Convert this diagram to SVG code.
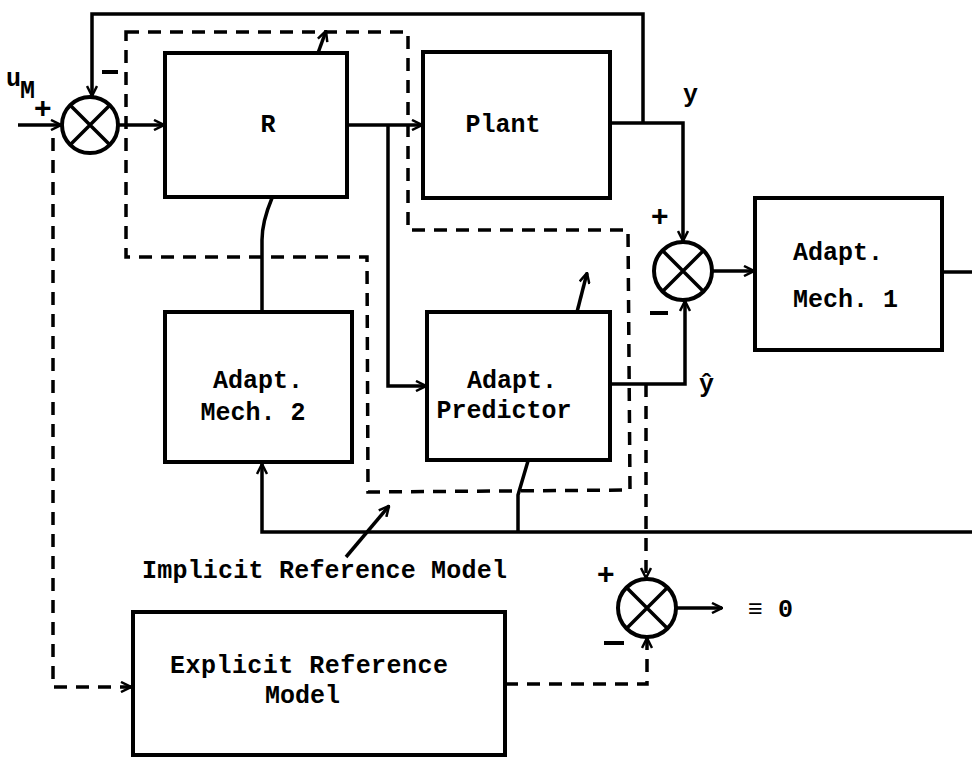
<svg xmlns="http://www.w3.org/2000/svg" width="972" height="758" viewBox="0 0 972 758">
<style>
.box{fill:#fff;stroke:#000;stroke-width:4}
.ln{fill:none;stroke:#000;stroke-width:3.5;stroke-linejoin:miter}
.dl{fill:none;stroke:#000;stroke-width:3.5;stroke-dasharray:13 9}
.sj{fill:#fff;stroke:#000;stroke-width:4}
.tx{font-family:"Liberation Mono","DejaVu Sans Mono",monospace;font-size:25px;font-weight:bold;fill:#000}
.sg{font-family:"Liberation Sans",Arial,sans-serif;font-size:30px;font-weight:bold;fill:#000}
</style>
<defs>
<marker id="ah" viewBox="0 0 12 12" refX="11" refY="6" markerWidth="12" markerHeight="12" markerUnits="userSpaceOnUse" orient="auto">
<path d="M1,1 L11,6 L1,11" fill="none" stroke="#000" stroke-width="2.5"/>
</marker>
</defs>
<rect width="972" height="758" fill="#fff"/>

<g id="connectors">
<line class="ln" x1="18" y1="125" x2="61" y2="125" marker-end="url(#ah)"/>
<line class="ln" x1="118" y1="125" x2="164" y2="125" marker-end="url(#ah)"/>
<line class="ln" x1="347" y1="125" x2="422" y2="125" marker-end="url(#ah)"/>
<polyline class="ln" points="388,125 388,386 426,386" marker-end="url(#ah)"/>
<polyline class="ln" points="610,123 683,123 683,241" marker-end="url(#ah)"/>
<polyline class="ln" points="643,123 643,14 92,14 92,96" marker-end="url(#ah)"/>
<polyline class="ln" points="610,384 685,384 685,301" marker-end="url(#ah)"/>
<line class="ln" x1="712" y1="271" x2="754" y2="271" marker-end="url(#ah)"/>
<line class="ln" x1="942" y1="272" x2="972" y2="272"/>
<polyline class="ln" points="972,532 262,532 262,464" marker-end="url(#ah)"/>
<polyline class="ln" points="528,461 518,495 518,532"/>
<path class="ln" d="M272,198 Q262,222 262,240 L262,311"/>
<line class="ln" x1="676" y1="608" x2="722" y2="608" marker-end="url(#ah)"/>
<line class="ln" x1="318" y1="53" x2="326" y2="31" marker-end="url(#ah)"/>
<line class="ln" x1="577" y1="312" x2="587" y2="273" marker-end="url(#ah)"/>
<line class="ln" x1="346" y1="557" x2="389" y2="506" marker-end="url(#ah)"/>
<polygon class="dl" points="126,32 408,32 408,230 628,230 630,490 368,492 367,257 126,257"/>
<polyline class="dl" points="53,138 53,687 131,687" marker-end="url(#ah)"/>
<polyline class="dl" points="646,384 646,578" marker-end="url(#ah)"/>
<polyline class="dl" points="505,684 647,684 647,638" marker-end="url(#ah)"/>
</g>

<g id="sum1">
<circle class="sj" cx="90" cy="125" r="28"/>
<path class="ln" d="M70,105 L110,145 M110,105 L70,145"/>
</g>
<g id="sum2">
<circle class="sj" cx="683" cy="271" r="29"/>
<path class="ln" d="M662.5,250.5 L703.5,291.5 M703.5,250.5 L662.5,291.5"/>
</g>
<g id="sum3">
<circle class="sj" cx="647" cy="608" r="29"/>
<path class="ln" d="M626.5,587.5 L667.5,628.5 M667.5,587.5 L626.5,628.5"/>
</g>

<g id="R">
<rect class="box" x="165" y="53" width="182" height="144"/>
<text class="tx" x="268" y="132" text-anchor="middle">R</text>
</g>
<g id="plant">
<rect class="box" x="423" y="52" width="187" height="146"/>
<text class="tx" x="503" y="132" text-anchor="middle">Plant</text>
</g>
<g id="mech1">
<rect class="box" x="755" y="198" width="187" height="152"/>
<text class="tx" x="793" y="260">Adapt.</text>
<text class="tx" x="793" y="307">Mech. 1</text>
</g>
<g id="mech2">
<rect class="box" x="165" y="312" width="187" height="150"/>
<text class="tx" x="258" y="388" text-anchor="middle">Adapt.</text>
<text class="tx" x="253" y="420" text-anchor="middle">Mech. 2</text>
</g>
<g id="predictor">
<rect class="box" x="427" y="312" width="183" height="148"/>
<text class="tx" x="512" y="388" text-anchor="middle">Adapt.</text>
<text class="tx" x="504" y="418" text-anchor="middle">Predictor</text>
</g>
<g id="explicit">
<rect class="box" x="133" y="612" width="372" height="143"/>
<text class="tx" x="170" y="673" textLength="278">Explicit Reference</text>
<text class="tx" x="265" y="703">Model</text>
</g>

<g id="labels">
<text class="tx" x="6" y="86" font-size="20">u</text>
<text class="tx" x="20" y="98" font-size="12">M</text>
<text class="sg" x="34" y="118" font-size="26">+</text>
<line x1="102" y1="72" x2="118" y2="72" stroke="#000" stroke-width="4"/>
<text class="tx" x="683" y="102">y</text>
<text class="tx" x="699" y="392">ŷ</text>
<text class="sg" x="651" y="226">+</text>
<line x1="650" y1="313" x2="668" y2="313" stroke="#000" stroke-width="4"/>
<text class="sg" x="597" y="584">+</text>
<line x1="604" y1="643" x2="624" y2="643" stroke="#000" stroke-width="4"/>
<text class="tx" x="748" y="617">≡ 0</text>
<text class="tx" x="142" y="578" textLength="365">Implicit Reference Model</text>
</g>
</svg>
